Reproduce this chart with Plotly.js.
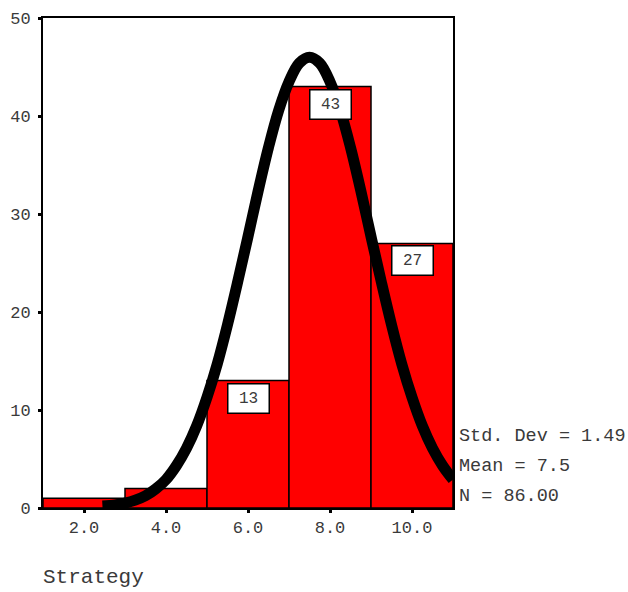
<!DOCTYPE html>
<html>
<head>
<meta charset="utf-8">
<script src="https://cdn.plot.ly/plotly-3.0.1.min.js"></script>
<style>html,body{margin:0;padding:0;background:#fff;}#chart{width:628px;height:592px;}</style>
</head>
<body>
<div id="chart"></div>
<script>
// Histogram bins (centers) and counts
const binCenters = [2, 4, 6, 8, 10];
const binCounts = [1, 2, 13, 43, 27];
const labelledBins = [6, 8, 10];
const labelledCounts = [13, 43, 27];
// Normal curve
const curveX = [2.45, 2.75, 3.0, 3.25, 3.5, 3.75, 4.0, 4.25, 4.5, 4.75, 5.0, 5.25, 5.5, 5.75, 6.0, 6.25, 6.5, 6.75, 7.0, 7.25, 7.5, 7.75, 8.0, 8.25, 8.5, 8.75, 9.0, 9.25, 9.5, 9.75, 10.0, 10.25, 10.5, 10.75, 11.0];
const curveY = [0.2, 0.3, 0.5, 0.8, 1.25, 1.95, 2.9, 4.3, 6.1, 8.4, 11.3, 14.7, 18.7, 23.1, 27.7, 32.4, 36.8, 40.6, 43.5, 45.4, 46.0, 45.4, 43.5, 40.6, 36.8, 32.4, 27.7, 23.1, 18.7, 14.7, 11.3, 8.4, 6.1, 4.3, 2.9];
// Tick labels
const xTickVals = [2, 4, 6, 8, 10];
const xTickText = ["2.0", "4.0", "6.0", "8.0", "10.0"];
const yTickVals = [0, 10, 20, 30, 40, 50];
const yTickText = ["0", "10", "20", "30", "40", "50"];
const statsLines = ["Std. Dev = 1.49", "Mean = 7.5", "N = 86.00"];
const xTitle = "Strategy";

const mono = "Liberation Mono, Courier New, monospace";
const txtColor = "#3a3a3a";

const traces = [
  {
    type: "bar", x: binCenters, y: binCounts, width: 2,
    marker: {color: "#ff0000", line: {color: "#000", width: 1.5}},
    hoverinfo: "skip", showlegend: false
  },
  {
    type: "scatter", mode: "lines", x: curveX, y: curveY,
    line: {color: "#000", width: 11, shape: "spline"},
    hoverinfo: "skip", showlegend: false
  }
];

const annotations = [];
labelledBins.forEach((b, i) => {
  annotations.push({
    x: b, y: labelledCounts[i], xref: "x", yref: "y",
    text: String(labelledCounts[i]), showarrow: false,
    yanchor: "top", xanchor: "center", yshift: -2,
    bgcolor: "#fff", bordercolor: "#000", borderwidth: 1.5, borderpad: 3,
    width: 34, height: 22,
    font: {family: mono, size: 16, color: txtColor}
  });
});
const statsY = [0.145, 0.084, 0.023];
statsLines.forEach((s, i) => {
  annotations.push({
    x: 1.01, y: statsY[i], xref: "paper", yref: "paper",
    text: s, showarrow: false, xanchor: "left", yanchor: "middle",
    font: {family: mono, size: 18.5, color: txtColor}
  });
});
annotations.push({
  x: -0.005, y: -0.142, xref: "paper", yref: "paper", text: xTitle,
  showarrow: false, xanchor: "left", yanchor: "middle",
  font: {family: mono, size: 21, color: txtColor}
});

const layout = {
  width: 628, height: 592,
  margin: {l: 43, r: 175, t: 18, b: 84},
  paper_bgcolor: "#fff", plot_bgcolor: "#fff",
  bargap: 0,
  xaxis: {
    range: [1, 11], tickvals: xTickVals, ticktext: xTickText,
    showgrid: false, zeroline: false, showline: true, mirror: true,
    linecolor: "#000", linewidth: 2,
    ticks: "outside", ticklen: 3, tickwidth: 3, tickcolor: "#000",
    tickfont: {family: mono, size: 17, color: txtColor}
  },
  yaxis: {
    range: [0, 50], tickvals: yTickVals, ticktext: yTickText,
    showgrid: false, zeroline: false, showline: true, mirror: true,
    linecolor: "#000", linewidth: 2,
    ticks: "outside", ticklen: 3, tickwidth: 3, tickcolor: "#000",
    ticklabelstandoff: 4,
    tickfont: {family: mono, size: 17, color: txtColor}
  },
  annotations: annotations
};

Plotly.newPlot("chart", traces, layout, {staticPlot: true, displayModeBar: false});
</script>
</body>
</html>
